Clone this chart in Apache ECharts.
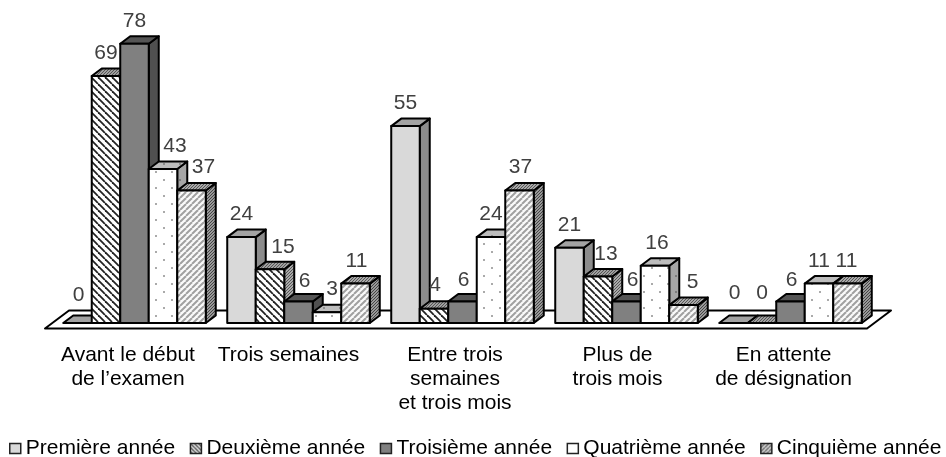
<!DOCTYPE html>
<html lang="fr">
<head>
    <meta charset="UTF-8">
    <title>Années</title>
    <style>
        body{ margin: 0; background: #fff; }
        #chart{ width: 946px; height: 457px; }
    </style>
    <script src="https://cdn.jsdelivr.net/npm/echarts@6/dist/echarts.min.js"></script>
</head>
<body>
    <div id="chart"></div>
    <script>
        // data
        const categories = ['Avant le début\nde l’examen', 'Trois semaines', 'Entre trois\nsemaines\net trois mois', 'Plus de\ntrois mois', 'En attente\nde désignation'];
        const years = ['Première année', 'Deuxième année', 'Troisième année', 'Quatrième année', 'Cinquième année'];
        const premiere = [0, 24, 55, 21, 0];
        const deuxieme = [69, 15, 4, 13, 0];
        const troisieme = [78, 6, 6, 6, 6];
        const quatrieme = [43, 3, 24, 16, 11];
        const cinquieme = [37, 11, 37, 5, 11];
        const values = [premiere, deuxieme, troisieme, quatrieme, cinquieme];

        // hand placed labels in the original: [dx, dy] per year then category
        const labelNudge = [
            [[1, -5], [0, 0], [0, 0], [0, 0], [1, -7]],
            [[0, 0], [13, 1], [1, 0], [8, 1], [0, -7]],
            [[0, 0], [6, 3], [1, 2], [6, 2], [1, 2]],
            [[12, 0], [5, 0], [0, 0], [2, 0], [0, 1]],
            [[12, 0], [1, 1], [1, 0], [9, 0], [-1, 1]]
        ];
        const categoryShift = [6.5, 10, 7.5, 9, 7];

        const DEPTH_X = 10, DEPTH_Y = 7.5, BAR_RATIO = 0.1738;
        const FONT = '"Liberation Sans", Arial, sans-serif';

        function tile(w, h, draw) {
            const c = document.createElement('canvas');
            c.width = w; c.height = h;
            draw(c.getContext('2d'));
            return { image: c, repeat: 'repeat' };
        }
        function hatch(dir, p, lw, fg, bg) {
            return tile(p, p, (g) => {
                g.fillStyle = bg; g.fillRect(0, 0, p, p);
                g.strokeStyle = fg; g.lineWidth = lw;
                for (let k = -p; k <= p; k += p) {
                    g.beginPath();
                    if (dir > 0) { g.moveTo(k, p); g.lineTo(k + p, 0); }
                    else { g.moveTo(k, 0); g.lineTo(k + p, p); }
                    g.stroke();
                }
            });
        }
        function mesh(a, b) {
            return tile(3, 3, (g) => {
                g.fillStyle = a; g.fillRect(0, 0, 3, 3);
                g.fillStyle = b; g.fillRect(0, 0, 1, 1); g.fillRect(2, 1, 1, 1); g.fillRect(1, 2, 1, 1);
            });
        }
        function dots(bg, fg) {
            return tile(16, 16, (g) => {
                g.fillStyle = bg; g.fillRect(0, 0, 16, 16);
                g.fillStyle = fg;
                g.fillRect(3, 3, 2, 2); g.fillRect(11, 11, 2, 2);
            });
        }

        const faces = [
            { front: '#d9d9d9', top: '#a3a3a3', side: '#8c8c8c' },
            { front: hatch(-1, 7, 1.8, '#222', '#fff'), top: mesh('#a0a0a0', '#555'), side: mesh('#aaa', '#555') },
            { front: '#808080', top: '#555', side: '#505050' },
            { front: dots('#fff', '#aaa'), top: dots('#bdbdbd', '#8c8c8c'), side: dots('#a6a6a6', '#7c7c7c') },
            { front: hatch(1, 6, 2, '#a0a0a0', '#fafafa'), top: mesh('#a8a8a8', '#555'), side: mesh('#999', '#444') }
        ];
        const swatches = ['#d9d9d9', hatch(-1, 4, 1.2, '#222', '#eee'), '#808080', '#fff', hatch(1, 4, 1.5, '#666', '#ddd')];

        function poly(points, fill, z2) {
            return {
                type: 'polygon', z2: z2,
                shape: { points: points },
                style: { fill: fill, stroke: '#000', lineWidth: 2, lineJoin: 'round' }
            };
        }

        function barItem(s) {
            return function (params, api) {
                const cat = api.value(0), val = api.value(1);
                const base = api.coord([cat, 0]), top = api.coord([cat, val]);
                const w = api.size([1, 0])[0] * BAR_RATIO;
                const x0 = base[0] - 2.5 * w + s * w, x1 = x0 + w;
                const y0 = base[1], y1 = top[1];
                const dx = DEPTH_X, dy = DEPTH_Y;
                const nudge = labelNudge[s][cat];
                const kids = [];
                if (val > 0) {
                    kids.push(poly([[x1, y0], [x1 + dx, y0 - dy], [x1 + dx, y1 - dy], [x1, y1]], faces[s].side, 1));
                }
                kids.push(poly([[x0, y1], [x0 + dx, y1 - dy], [x1 + dx, y1 - dy], [x1, y1]], faces[s].top, 1));
                if (val > 0) {
                    kids.push(poly([[x0, y0], [x1, y0], [x1, y1], [x0, y1]], faces[s].front, 2));
                }
                kids.push({
                    type: 'text', z2: 50,
                    x: x0 + w / 2 + nudge[0], y: y1 - 23 + nudge[1],
                    style: { text: String(val), fill: '#404040', fontSize: 21, fontFamily: FONT, align: 'center', verticalAlign: 'middle' }
                });
                return { type: 'group', children: kids };
            };
        }

        function floorItem(params, api) {
            const first = api.coord([0, 0]), last = api.coord([categories.length - 1, 0]);
            const band = api.size([1, 0])[0];
            const l = first[0] - band / 2, r = last[0] + band / 2, y = first[1];
            return poly([[l - 7.5, y + 5.5], [l + 16.5, y - 12.5], [r + 18.5, y - 12.5], [r - 5.5, y + 5.5]], '#fff', 0);
        }

        const rich = {};
        categoryShift.forEach((d, i) => {
            rich['c' + i] = { fontSize: 21, fontFamily: FONT, color: '#000', lineHeight: 24, padding: [0, d * 2, 0, 0] };
        });

        const series = [{
            name: 'sol', type: 'custom', z: 1, silent: true,
            renderItem: floorItem, data: [[0, 0]], encode: { x: 0, y: 1 }
        }];
        years.forEach((name, s) => {
            series.push({
                name: name, type: 'custom', z: 2 + s,
                renderItem: barItem(s),
                data: values[s].map((v, i) => [i, v]),
                encode: { x: 0, y: 1 }
            });
        });

        const inst = echarts.init(document.getElementById('chart'), null, { renderer: 'canvas' });
        inst.setOption({
            animation: false,
            backgroundColor: '#fff',
            grid: { left: 52.5, top: 36.6, width: 820, height: 286.4 },
            xAxis: {
                type: 'category', data: categories,
                axisLine: { show: false }, axisTick: { show: false }, splitLine: { show: false },
                axisLabel: {
                    interval: 0, margin: 20,
                    formatter: (v, i) => v.split('\n').map((t) => '{c' + i + '|' + t + '}').join('\n'),
                    rich: rich
                }
            },
            yAxis: { type: 'value', min: 0, max: 80, show: false },
            legend: {
                left: 9, top: 438, padding: 0,
                itemWidth: 11, itemHeight: 10, itemGap: 14.5,
                icon: 'rect',
                textStyle: { fontSize: 21, fontFamily: FONT, color: '#000' },
                data: years.map((name, s) => ({
                    name: name, icon: 'rect',
                    itemStyle: { color: swatches[s], borderColor: '#222', borderWidth: 1.5 }
                }))
            },
            series: series
        });
    </script>
</body>
</html>
